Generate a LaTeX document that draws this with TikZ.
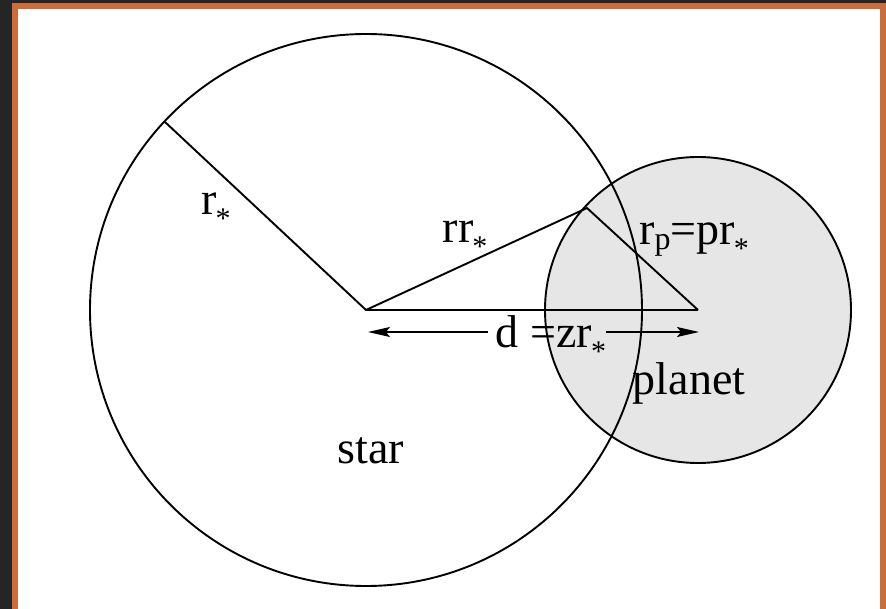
\documentclass[tikz,border=0pt]{standalone}
\usepackage{fontspec}
\setmainfont{Liberation Serif}
\usetikzlibrary{arrows.meta}
\definecolor{framedark}{HTML}{252525}
\definecolor{frameorange}{HTML}{CC6C38}
\definecolor{planetgray}{HTML}{E6E6E6}
\newcommand{\subp}{\raisebox{-5pt}{\fontsize{32}{32}\selectfont p}}
\newcommand{\substar}{\kern-1pt\raisebox{-14pt}{\fontsize{30}{30}\selectfont *}}
\begin{document}
\begin{tikzpicture}[x=1pt,y=-1pt,
  wire/.style={line width=1.9pt,line join=round},
  dimline/.style={line width=1.3pt,-{Stealth[length=22pt,width=10pt,inset=4pt]}},
  lbl/.style={anchor=base,inner sep=0pt,font=\fontsize{46}{50}\selectfont}]
\useasboundingbox (0,0) rectangle (886,609);
% frame
\fill[framedark] (0,0) rectangle (886,609);
\fill[frameorange] (12,3) rectangle (886,609);
\fill[white] (18,9) rectangle (880,609);
% centres and rim points
\coordinate (starc) at (366,310);
\coordinate (planc) at (698,310);
\coordinate (starrim) at (165,122);
\coordinate (planrim) at (587,208);
\coordinate (dleft) at (368,332);
\coordinate (dright) at (699,332);
% bodies
\fill[planetgray] (planc) circle[radius=153pt];
\draw[wire] (starc) circle[radius=276pt];
\draw[wire] (planc) circle[radius=153pt];
% radii
\draw[wire] (starrim) -- (starc);
\draw[wire] (planc) -- (starc) -- (planrim) -- (planc);
% labels
\node[lbl] (rstar) at (216,215) {r\substar};
\node[lbl] (rrstar) at (465,243) {rr\substar};
\node[lbl] (rpeq) at (694,245) {r\subp=pr\substar};
\node[lbl] (dlab) at (551,348) {d =zr\substar};
\node[lbl] (planetlbl) at (689,395) {planet};
\node[lbl] (starlbl) at (371,463) {star};
% distance arrow
\draw[dimline] ([xshift=-8pt]dlab.west |- dleft) -- (dleft);
\draw[dimline] (dlab.east |- dright) -- (dright);
\end{tikzpicture}
\end{document}
